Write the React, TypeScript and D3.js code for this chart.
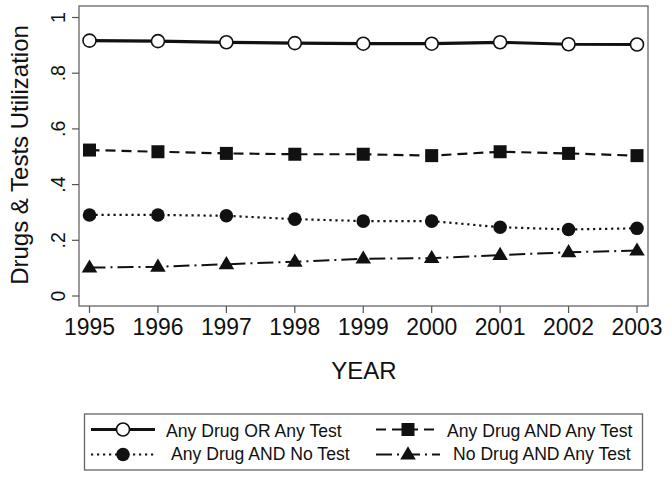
import React from "react";
import * as d3 from "d3";

const years = [1995, 1996, 1997, 1998, 1999, 2000, 2001, 2002, 2003];
const anyDrugOrAnyTest = [0.917, 0.915, 0.911, 0.908, 0.906, 0.906, 0.911, 0.904, 0.903];
const anyDrugAndAnyTest = [0.524, 0.518, 0.512, 0.509, 0.509, 0.504, 0.518, 0.512, 0.504];
const anyDrugAndNoTest = [0.291, 0.291, 0.288, 0.276, 0.269, 0.269, 0.247, 0.239, 0.243];
const noDrugAndAnyTest = [0.102, 0.105, 0.114, 0.123, 0.134, 0.136, 0.147, 0.157, 0.163];
const yTicks = [0, 0.2, 0.4, 0.6, 0.8, 1];
const yTickLabels = ["0", ".2", ".4", ".6", ".8", "1"];
const seriesNames = [
  "Any Drug OR Any Test",
  "Any Drug AND Any Test",
  "Any Drug AND No Test",
  "No Drug AND Any Test",
];

const W = 672, H = 477;
const box = { left: 79, right: 648, top: 6, bottom: 306 };
const x = d3.scaleLinear().domain([1995, 2003]).range([89.5, 637]);
const y = d3.scaleLinear().domain([0, 1]).range([296, 17.5]);
const FONT = "'Liberation Sans', Arial, Helvetica, sans-serif";

type Style = { width: number; dash: string; marker: string };
const styles: Style[] = [
  { width: 3.2, dash: "none", marker: "ocircle" },
  { width: 2.2, dash: "10 6", marker: "square" },
  { width: 2.2, dash: "2.2 3.8", marker: "circle" },
  { width: 2, dash: "16 5 2 5", marker: "triangle" },
];
const allSeries = [anyDrugOrAnyTest, anyDrugAndAnyTest, anyDrugAndNoTest, noDrugAndAnyTest];

function Marker({ kind, cx, cy }: { kind: string; cx: number; cy: number }) {
  if (kind === "ocircle")
    return <circle cx={cx} cy={cy} r={6.5} fill="white" stroke="#111" strokeWidth={1.6} />;
  if (kind === "circle") return <circle cx={cx} cy={cy} r={6.8} fill="#111" />;
  if (kind === "square")
    return <rect x={cx - 6.5} y={cy - 6.5} width={13} height={13} fill="#111" />;
  const s = 8.2;
  return (
    <path
      d={`M${cx},${cy - s} L${cx + s * 0.95},${cy + s * 0.6} L${cx - s * 0.95},${cy + s * 0.6} Z`}
      fill="#111"
    />
  );
}

export default function App() {
  const line = d3
    .line<number>()
    .x((_, i) => x(years[i]))
    .y((d) => y(d));

  const legendItems = [
    { col: 0, row: 0, idx: 0 },
    { col: 1, row: 0, idx: 1 },
    { col: 0, row: 1, idx: 2 },
    { col: 1, row: 1, idx: 3 },
  ];
  const keyX = [91, 376];
  const keyW = 64;
  const textX = [[166, 447], [171, 453]];
  const rowY = [429.5, 454.5];
  const textY = [437, 459.5];

  return (
    <svg
      width={W}
      height={H}
      style={{ position: "absolute", left: 0, top: 0, background: "white" }}
      fontFamily={FONT}
    >
      <rect x={0} y={0} width={W} height={H} fill="white" />
      {/* plot box */}
      <rect
        x={box.left}
        y={box.top}
        width={box.right - box.left}
        height={box.bottom - box.top}
        fill="white"
        stroke="#666"
        strokeWidth={1.3}
      />
      {/* y ticks */}
      {yTicks.map((t, i) => (
        <g key={"yt" + i}>
          <line x1={box.left - 7} x2={box.left} y1={y(t)} y2={y(t)} stroke="#555" strokeWidth={1.2} />
          <text
            transform={`translate(64.5,${y(t)}) rotate(-90)`}
            textAnchor="middle"
            fontSize={19.5}
            fill="#111"
          >
            {yTickLabels[i]}
          </text>
        </g>
      ))}
      {/* x ticks */}
      {years.map((yr) => (
        <g key={"xt" + yr}>
          <line x1={x(yr)} x2={x(yr)} y1={box.bottom} y2={box.bottom + 7} stroke="#555" strokeWidth={1.2} />
          <text x={x(yr)} y={335} textAnchor="middle" fontSize={23.5} fill="#111" textLength={51} lengthAdjust="spacingAndGlyphs">
            {String(yr)}
          </text>
        </g>
      ))}
      {/* axis titles */}
      <text x={364} y={379} textAnchor="middle" fontSize={24} fill="#111">
        YEAR
      </text>
      <text
        transform={`translate(28,155) rotate(-90)`}
        textAnchor="middle"
        fontSize={24}
        fill="#111"
      >
        Drugs &amp; Tests Utilization
      </text>
      {/* series */}
      {allSeries.map((s, k) => (
        <g key={"s" + k}>
          <path
            d={line(s) || ""}
            fill="none"
            stroke="#111"
            strokeWidth={styles[k].width}
            strokeDasharray={styles[k].dash}
          />
          {s.map((v, i) => (
            <Marker key={i} kind={styles[k].marker} cx={x(years[i])} cy={y(v)} />
          ))}
        </g>
      ))}
      {/* legend */}
      <rect x={84.5} y={414} width={558} height={56} fill="white" stroke="#666" strokeWidth={1.3} />
      {legendItems.map(({ col, row, idx }) => (
        <g key={"lg" + idx}>
          <line
            x1={keyX[col]}
            x2={keyX[col] + keyW}
            y1={rowY[row]}
            y2={rowY[row]}
            stroke="#111"
            strokeWidth={styles[idx].width}
            strokeDasharray={styles[idx].dash}
          />
          <Marker kind={styles[idx].marker} cx={keyX[col] + keyW / 2} cy={rowY[row]} />
          <text x={textX[row][col]} y={textY[row]} fontSize={17.6} fill="#111">
            {seriesNames[idx]}
          </text>
        </g>
      ))}
    </svg>
  );
}
